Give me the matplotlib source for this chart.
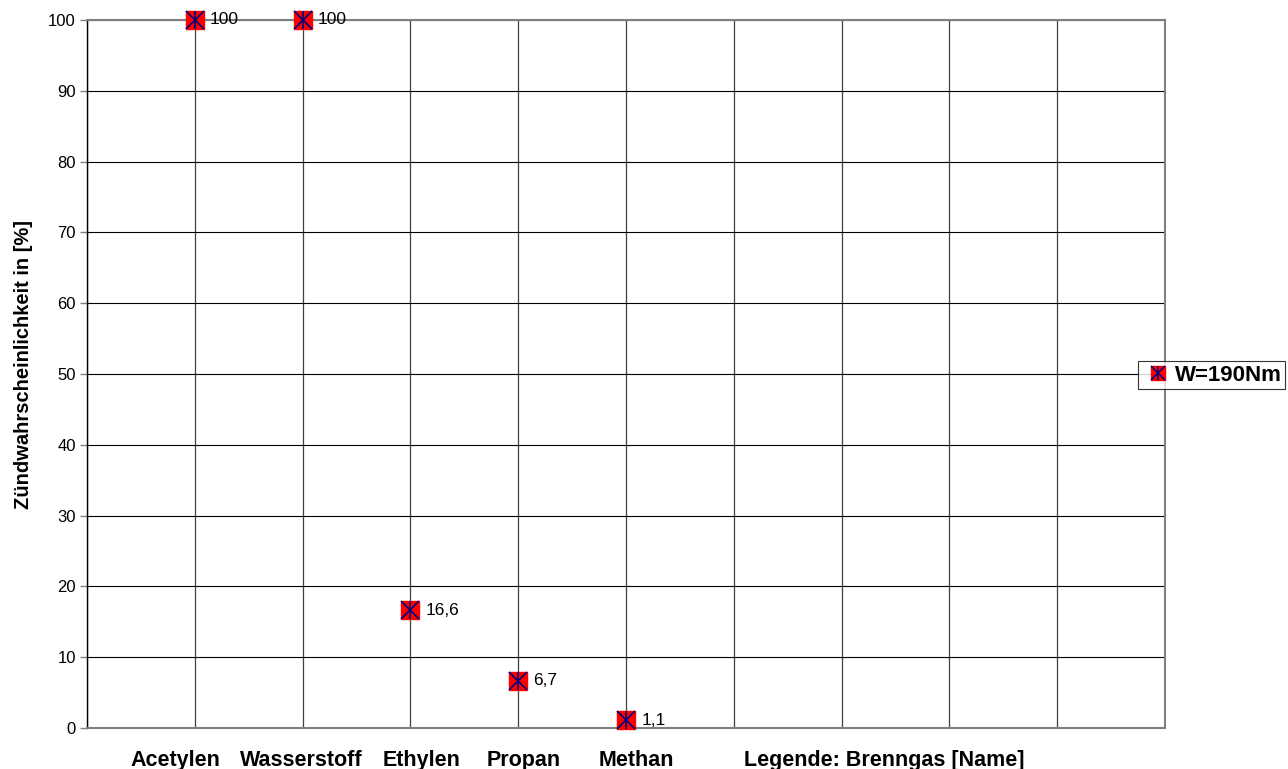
import matplotlib
matplotlib.use("Agg")
import matplotlib.pyplot as plt
from matplotlib.lines import Line2D

plt.rcParams['font.family'] = ['Liberation Sans', 'DejaVu Sans']

gases = ["Acetylen", "Wasserstoff", "Ethylen", "Propan", "Methan"]
probability = [100, 100, 16.6, 6.7, 1.1]
value_labels = ["100", "100", "16,6", "6,7", "1,1"]
series_name = "W=190Nm"
axis_title = "Zündwahrscheinlichkeit in [%]"
legend_caption = "Legende: Brenngas [Name]"

fig = plt.figure(figsize=(12.88, 7.69), dpi=100)
ax = fig.add_axes([87 / 1288, 1 - 728 / 769, (1165 - 87) / 1288, (728 - 20) / 769])

positions = list(range(1, len(gases) + 1))

ax.set_xlim(0, 10)
ax.set_ylim(0, 100)
ax.set_yticks(range(0, 101, 10))
ax.set_xticks(range(0, 11))
ax.tick_params(axis='x', length=0, labelbottom=False)
ax.tick_params(axis='y', length=5, width=1, color='#808080', labelsize=12, pad=3)

ax.grid(True, axis='y', color='#000000', linewidth=0.8)
ax.grid(True, axis='x', color='#404040', linewidth=0.9)
ax.set_axisbelow(True)

for side in ('top', 'right', 'bottom'):
    ax.spines[side].set_color('#808080')
    ax.spines[side].set_linewidth(1.5)
ax.spines['left'].set_color('#000000')
ax.spines['left'].set_linewidth(1.0)

# markers: red square overlaid with a navy star-like cross
ax.plot(positions, probability, linestyle='none', marker='s', markersize=13,
        markerfacecolor='#ff0000', markeredgecolor='#ff0000', clip_on=False, zorder=3)
ax.plot(positions, probability, linestyle='none', marker='x', markersize=12.5,
        markeredgecolor='#000080', markeredgewidth=1.2, clip_on=False, zorder=4)
ax.plot(positions, probability, linestyle='none', marker='|', markersize=13,
        markeredgecolor='#000080', markeredgewidth=1.2, clip_on=False, zorder=4)

for x, y, lab in zip(positions, probability, value_labels):
    ax.annotate(lab, (x, y), xytext=(11, 0), textcoords='offset points',
                va='center', ha='left', fontsize=12.5, zorder=5)

# category names written as one row below the axis
name_x = [0.82, 1.985, 3.10, 4.055, 5.10]
for x, name in zip(name_x, gases):
    ax.text(x, -5.3, name, ha='center', va='baseline', fontsize=15.5,
            fontweight='bold', clip_on=False)
ax.text(7.40, -5.3, legend_caption, ha='center', va='baseline', fontsize=15.5,
        fontweight='bold', clip_on=False)

ax.set_ylabel(axis_title, fontsize=14.5, fontweight='bold')
ax.yaxis.set_label_coords(-0.0505, 0.513)

handle = (Line2D([], [], linestyle='none', marker='s', markersize=10,
                 markerfacecolor='#ff0000', markeredgecolor='#ff0000'),
          Line2D([], [], linestyle='none', marker='x', markersize=9.5,
                 markeredgecolor='#000080', markeredgewidth=1.1),
          Line2D([], [], linestyle='none', marker='|', markersize=10,
                 markeredgecolor='#000080', markeredgewidth=1.1))
leg = fig.legend([handle], [series_name], loc='center left',
                 bbox_to_anchor=(1138 / 1288, 1 - 375 / 769),
                 frameon=True, fancybox=False, edgecolor='#000000',
                 prop={'weight': 'bold', 'size': 16}, handlelength=1.5,
                 handletextpad=0.0, borderpad=0.15, borderaxespad=0)
leg.get_frame().set_linewidth(0.8)

fig.savefig("out.png", dpi=100)
